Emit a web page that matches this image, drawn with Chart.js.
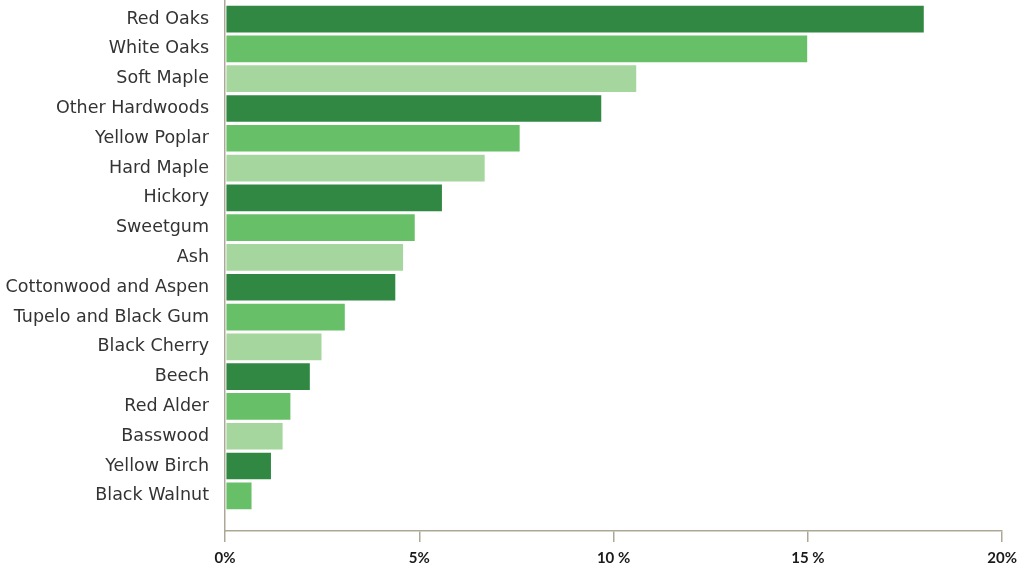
<!DOCTYPE html>
<html>
<head>
<meta charset="utf-8">
<script src="https://cdn.jsdelivr.net/npm/chart.js@4"></script>
<style>
  html, body { margin: 0; padding: 0; background: #fff; }
  #wrap { width: 1024px; height: 567px; }
</style>
</head>
<body>
<div id="wrap"><canvas id="wood-chart"></canvas></div>
<script>
const categories = ['Red Oaks', 'White Oaks', 'Soft Maple', 'Other Hardwoods', 'Yellow Poplar',
  'Hard Maple', 'Hickory', 'Sweetgum', 'Ash', 'Cottonwood and Aspen', 'Tupelo and Black Gum',
  'Black Cherry', 'Beech', 'Red Alder', 'Basswood', 'Yellow Birch', 'Black Walnut'];
const shares = [18.0, 15.0, 10.6, 9.7, 7.6, 6.7, 5.6, 4.9, 4.6, 4.4, 3.1, 2.5, 2.2, 1.7, 1.5, 1.2, 0.7];
const tickValues = [0, 5, 10, 15, 20];
const tickLabels = ['0%', '5%', '10 %', '15 %', '20%'];
const palette = ['#318842', '#67bf67', '#a4d69e'];

function loadChart() {
  const ctx = document.getElementById('wood-chart').getContext('2d');
  const axisColor = '#aca796';

  new Chart(ctx, {
    type: 'bar',
    data: {
      datasets: [{
        data: shares.map((v, i) => ({ x: v, y: i })),
        backgroundColor: shares.map((v, i) => palette[i % 3]),
        borderColor: 'rgba(255,255,255,0.35)',
        borderWidth: 1,
        borderSkipped: false,
        barThickness: 28
      }]
    },
    options: {
      indexAxis: 'y',
      responsive: true,
      maintainAspectRatio: false,
      animation: false,
      layout: { padding: { top: 0, right: 21, bottom: 0, left: 0 } },
      plugins: { legend: { display: false }, tooltip: { enabled: false } },
      scales: {
        x: {
          type: 'linear',
          min: 0,
          max: 20,
          afterBuildTicks: scale => { scale.ticks = tickValues.map(v => ({ value: v })); },
          afterFit: scale => { scale.height = 36; },
          ticks: {
            callback: (v) => tickLabels[tickValues.indexOf(v)],
            color: '#1a1a1a',
            font: { family: 'Lato', size: 15, weight: 'bold' },
            padding: 7,
            maxRotation: 0
          },
          grid: { drawOnChartArea: false, tickLength: 11, color: axisColor, lineWidth: 1.5 },
          border: { color: axisColor, width: 1.5 }
        },
        y: {
          type: 'linear',
          reverse: true,
          offset: false,
          min: -0.64,
          max: 17.18,
          afterBuildTicks: scale => { scale.ticks = categories.map((c, i) => ({ value: i })); },
          afterFit: scale => {
            scale.width = 225;
            scale.paddingTop = 0;
            scale.paddingBottom = 0;
          },
          ticks: {
            callback: (v) => categories[v],
            color: '#333',
            font: { family: 'DejaVu Sans', size: 17.5 },
            padding: 16,
            autoSkip: false
          },
          grid: { display: false, drawTicks: false, offset: false },
          border: { color: axisColor, width: 1.5 }
        }
      }
    }
  });
}

document.addEventListener('DOMContentLoaded', () => {
  loadChart();
});
</script>
</body>
</html>
